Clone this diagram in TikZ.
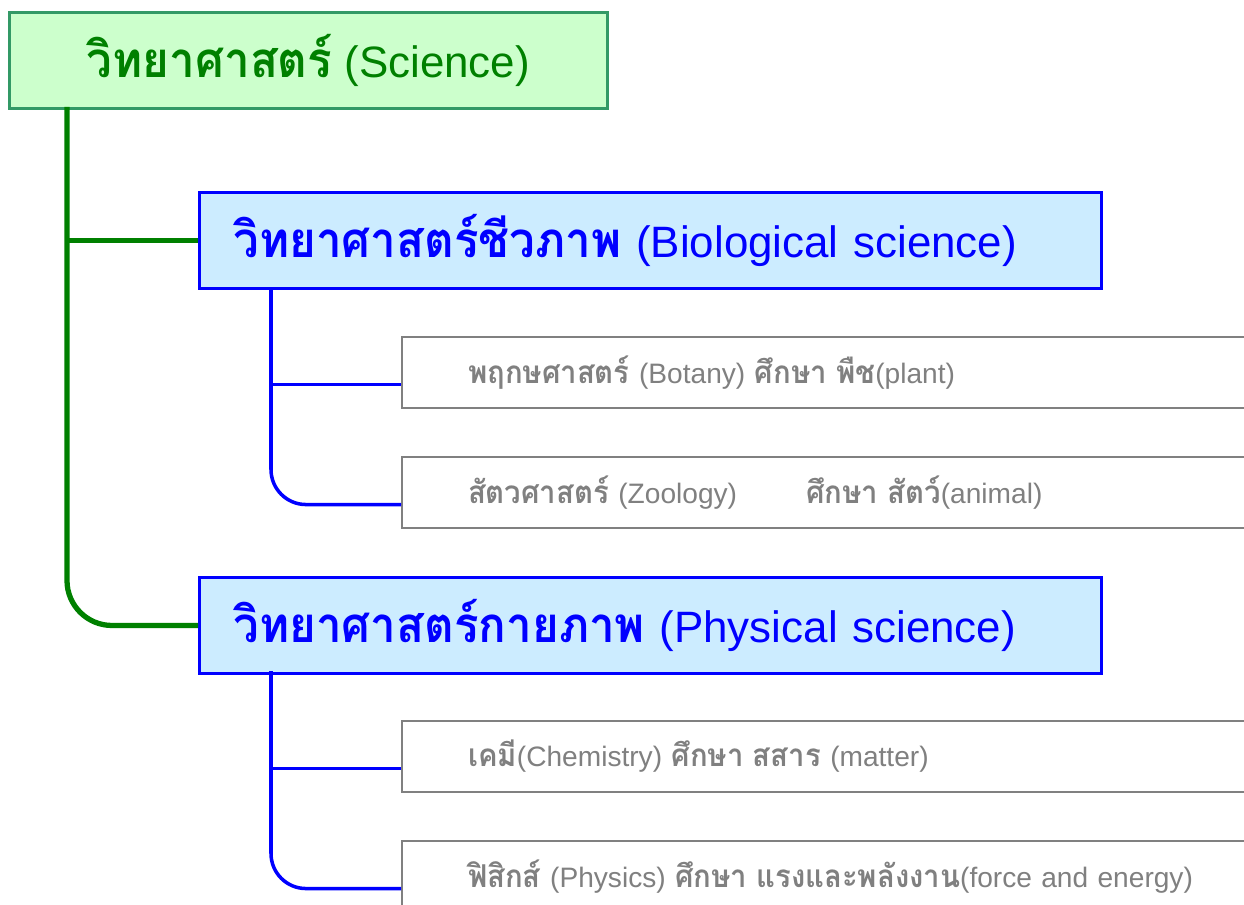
\documentclass[tikz,border=0pt]{standalone}
\usepackage{fontspec}
\setmainfont{Liberation Sans}
\newfontfamily\thaifont[Script=Thai, Scale=1.12, FakeStretch=0.93]{Loma}
\newcommand{\thai}[1]{{\thaifont\bfseries #1}}

\definecolor{rootfill}{HTML}{CCFFCC}
\definecolor{rootdraw}{HTML}{339966}
\definecolor{rootink}{HTML}{008000}
\definecolor{branchfill}{HTML}{CCECFF}
\definecolor{branchink}{HTML}{0000FF}
\definecolor{leafink}{HTML}{808080}

\begin{document}
\begin{tikzpicture}[x=0.02cm, y=-0.02cm,
    rootbox/.style={draw=rootdraw, fill=rootfill, line width=1.7pt, text=rootink,
        anchor=north west, minimum width=11.96cm, minimum height=1.92cm,
        font=\fontsize{25}{30}\selectfont},
    branchbox/.style={draw=branchink, fill=branchfill, line width=1.7pt, text=branchink,
        anchor=north west, minimum width=18.04cm, minimum height=1.92cm,
        inner xsep=0.68cm, text width=16.68cm, align=left,
        font=\fontsize{25}{30}\selectfont},
    leafbox/.style={draw=leafink, fill=white, line width=1.2pt, text=leafink,
        anchor=north west, minimum width=20cm, minimum height=1.42cm,
        inner xsep=1.32cm, text width=17.36cm, align=left,
        font=\fontsize{16}{19}\selectfont},
    trunk/.style={draw=rootink, line width=3pt, rounded corners=0.9cm},
    twig/.style={draw=branchink, line width=2pt, rounded corners=0.7cm}]
    \useasboundingbox (0,0) rectangle (1244,905);
    \clip (0,0) rectangle (1244,905);

    % Boxes
    \node[rootbox] (root) at (8,11) {\thai{วิทยาศาสตร์} (Science)};
    \node[branchbox] (bio) at (198,191) {\thai{วิทยาศาสตร์ชีวภาพ} (Biological science)};
    \node[branchbox] (phys) at (198,576) {\thai{วิทยาศาสตร์กายภาพ} (Physical science)};
    \node[leafbox] (bot) at (401,336) {\thai{พฤกษศาสตร์} (Botany) \thai{ศึกษา พืช}(plant)};
    \node[leafbox] (zoo) at (401,456) {\thai{สัตวศาสตร์} (Zoology)\hspace{1.38cm}\thai{ศึกษา สัตว์}(animal)};
    \node[leafbox] (chem) at (401,720) {\thai{เคมี}(Chemistry) \thai{ศึกษา สสาร} (matter)};
    \node[leafbox] (phy) at (401,840) {\thai{ฟิสิกส์} (Physics) \thai{ศึกษา แรงและพลังงาน}(force and energy)};

    % entry points, a little below the middle of each leaf
    \coordinate (botin) at ([yshift=-0.24cm]bot.west);
    \coordinate (zooin) at ([yshift=-0.24cm]zoo.west);
    \coordinate (chemin) at ([yshift=-0.24cm]chem.west);
    \coordinate (phyin) at ([yshift=-0.24cm]phy.west);

    % Green connectors
    \coordinate (gtop) at (67,107);
    \draw[trunk] (gtop) |- (phys.west);
    \draw[trunk] (gtop |- bio.west) -- (bio.west);

    % Blue connectors
    \coordinate (btop) at (271,288);
    \draw[twig] (btop) |- (zooin);
    \draw[twig] (btop |- botin) -- (botin);
    \coordinate (ptop) at (271,671);
    \draw[twig] (ptop) |- (phyin);
    \draw[twig] (ptop |- chemin) -- (chemin);
\end{tikzpicture}
\end{document}
